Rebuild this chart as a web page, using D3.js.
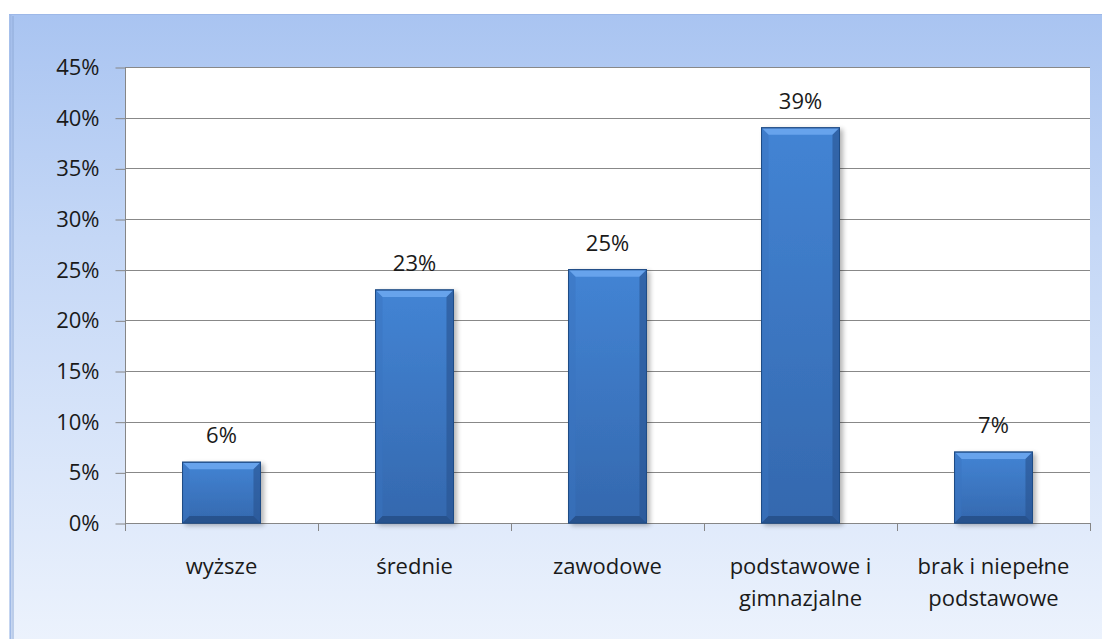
<!DOCTYPE html>
<html>
<head>
<meta charset="utf-8">
<script src="https://cdn.jsdelivr.net/npm/d3@7"></script>
<style>
  html, body { margin: 0; padding: 0; background: #fff; }
  svg { display: block; font-family: "Open Sans", "Noto Sans", sans-serif; }
</style>
</head>
<body>
<svg id="canvas" width="1102" height="639"></svg>
<script>
'use strict';

// categories (lines of each label) and their values, in percent
var categories = [
  ['wyższe'],
  ['średnie'],
  ['zawodowe'],
  ['podstawowe i', 'gimnazjalne'],
  ['brak i niepełne', 'podstawowe']
];
var values = [6, 23, 25, 39, 7];
var yTicks = [0, 5, 10, 15, 20, 25, 30, 35, 40, 45];

var width = 1102, height = 639;
var plot = {left: 125, right: 1090, top: 67, bottom: 523};
var fontSize = '22px';
var textColor = '#1a1a1a';

var svg = d3.select('svg#canvas');
var defs = svg.append('defs');

// background of the chart frame
var bg = defs.append('linearGradient').attr('id', 'bg')
  .attr('x1', 0).attr('y1', 0).attr('x2', 0).attr('y2', 1);
bg.append('stop').attr('offset', '0%').attr('stop-color', '#a9c4f1');
bg.append('stop').attr('offset', '35%').attr('stop-color', '#c4d7f6');
bg.append('stop').attr('offset', '100%').attr('stop-color', '#edf3fd');

// bar body
var barGrad = defs.append('linearGradient').attr('id', 'bar')
  .attr('x1', 0).attr('y1', 0).attr('x2', 0).attr('y2', 1);
barGrad.append('stop').attr('offset', '0%').attr('stop-color', '#4384d4');
barGrad.append('stop').attr('offset', '100%').attr('stop-color', '#3468ae');

var shadow = defs.append('filter').attr('id', 'shadow')
  .attr('x', '-20%').attr('y', '-20%').attr('width', '140%').attr('height', '140%');
shadow.append('feGaussianBlur').attr('in', 'SourceAlpha').attr('stdDeviation', 2.5);
shadow.append('feOffset').attr('dx', 3).attr('dy', 2).attr('result', 'b');
shadow.append('feComponentTransfer').append('feFuncA').attr('type', 'linear').attr('slope', 0.3);
var merge = shadow.append('feMerge');
merge.append('feMergeNode');
merge.append('feMergeNode').attr('in', 'SourceGraphic');

svg.append('rect')
  .attr('x', 9).attr('y', 14).attr('width', width).attr('height', height)
  .attr('fill', 'url(#bg)');
svg.append('line')
  .attr('x1', 10.5).attr('x2', 10.5).attr('y1', 14).attr('y2', height)
  .attr('stroke', '#9fb9e6').attr('stroke-width', 2);
svg.append('line')
  .attr('x1', 13).attr('x2', 13).attr('y1', 16).attr('y2', height)
  .attr('stroke', '#8ea9d6').attr('stroke-width', 1);
svg.append('line')
  .attr('x1', 9).attr('x2', width).attr('y1', 14.5).attr('y2', 14.5)
  .attr('stroke', '#9db8e8').attr('stroke-width', 1);

/* scales */
var x = d3.scaleBand()
  .domain(d3.range(values.length))
  .range([plot.left, plot.right])
  .padding(0);
var y = d3.scaleLinear()
  .domain([0, 45])
  .range([plot.bottom, plot.top]);

var g = svg.append('g').attr('id', 'graph');

g.append('rect')
  .attr('x', plot.left).attr('y', plot.top)
  .attr('width', plot.right - plot.left).attr('height', plot.bottom - plot.top)
  .attr('fill', '#fff');

/* gridlines */
g.append('g').selectAll('line')
  .data(yTicks.filter(function(d){ return d > 0; }))
  .join('line')
  .attr('x1', plot.left).attr('x2', plot.right)
  .attr('y1', function(d){ return Math.round(y(d)) + 0.5; })
  .attr('y2', function(d){ return Math.round(y(d)) + 0.5; })
  .attr('stroke', '#888').attr('stroke-width', 1);

/* y axis */
var yAxis = d3.axisLeft(y)
  .tickValues(yTicks)
  .tickSize(10)
  .tickPadding(16)
  .tickFormat(function(d){ return d + '%'; });
var ya = g.append('g')
  .attr('transform', 'translate(' + (plot.left + 0.5) + ',0.5)')
  .call(yAxis);
ya.select('.domain').attr('stroke', '#868686').attr('d', 'M0,' + (plot.top - 0.5) + 'V' + (plot.bottom - 0.5));
ya.selectAll('.tick line').attr('stroke', '#868686');
ya.selectAll('.tick text')
  .attr('fill', textColor).style('font-size', fontSize)
  .style('font-family', '"Open Sans", "Noto Sans", sans-serif');

/* x axis: ticks on category boundaries */
var bounds = d3.range(values.length + 1).map(function(i){
  return i < values.length ? x(i) : x(values.length - 1) + x.bandwidth();
});
var xa = g.append('g');
xa.append('line')
  .attr('x1', plot.left).attr('x2', plot.right)
  .attr('y1', plot.bottom + 0.5).attr('y2', plot.bottom + 0.5)
  .attr('stroke', '#868686');
xa.selectAll('line.tk')
  .data(bounds)
  .join('line').attr('class', 'tk')
  .attr('x1', function(d){ return Math.round(d) + 0.5; })
  .attr('x2', function(d){ return Math.round(d) + 0.5; })
  .attr('y1', plot.bottom).attr('y2', plot.bottom + 8)
  .attr('stroke', '#868686');

var labels = xa.selectAll('text.cat')
  .data(categories)
  .join('text').attr('class', 'cat')
  .attr('x', function(d, i){ return x(i) + x.bandwidth() / 2; })
  .attr('y', plot.bottom + 51)
  .attr('text-anchor', 'middle')
  .attr('fill', textColor)
  .style('font-size', fontSize);
labels.selectAll('tspan')
  .data(function(d){ return d; })
  .join('tspan')
  .attr('x', function(){ return d3.select(this.parentNode).attr('x'); })
  .attr('dy', function(d, i){ return i === 0 ? 0 : 32; })
  .text(function(d){ return d; });

/* bars */
var bw = x.bandwidth() * 0.404;
var bars = g.append('g').selectAll('g.bar')
  .data(values)
  .join('g').attr('class', 'bar')
  .attr('transform', function(d, i){
    return 'translate(' + (x(i) + (x.bandwidth() - bw) / 2) + ',' + y(d) + ')';
  });

bars.append('rect')
  .attr('width', bw)
  .attr('height', function(d){ return y(0) - y(d); })
  .attr('fill', 'url(#bar)')
  .attr('stroke', '#1f4c86').attr('stroke-width', 1)
  .attr('filter', 'url(#shadow)');

var bev = 7;
// top bevel (light)
bars.append('path')
  .attr('d', 'M0.5,0.5 H' + (bw - 0.5) + ' L' + (bw - bev) + ',' + bev + ' H' + bev + ' Z')
  .attr('fill', '#6ba6ee').attr('opacity', 0.9);
// left bevel
bars.append('path')
  .attr('d', function(d){
    var h = y(0) - y(d);
    return 'M0.5,0.5 L' + bev + ',' + bev + ' V' + (h - bev) + ' L0.5,' + (h - 0.5) + ' Z';
  })
  .attr('fill', '#3a74c0').attr('opacity', 0.5);
// right bevel (dark)
bars.append('path')
  .attr('d', function(d){
    var h = y(0) - y(d);
    return 'M' + (bw - 0.5) + ',0.5 L' + (bw - bev) + ',' + bev + ' V' + (h - bev) + ' L' + (bw - 0.5) + ',' + (h - 0.5) + ' Z';
  })
  .attr('fill', '#2a5592').attr('opacity', 0.65);
// bottom bevel (dark)
bars.append('path')
  .attr('d', function(d){
    var h = y(0) - y(d);
    return 'M0.5,' + (h - 0.5) + ' L' + bev + ',' + (h - bev) + ' H' + (bw - bev) + ' L' + (bw - 0.5) + ',' + (h - 0.5) + ' Z';
  })
  .attr('fill', '#244c85').attr('opacity', 0.8);
bars.append('rect')
  .attr('width', bw)
  .attr('height', function(d){ return y(0) - y(d); })
  .attr('fill', 'none')
  .attr('stroke', '#1f4c86').attr('stroke-width', 1);

/* value labels */
g.append('g').selectAll('text')
  .data(values)
  .join('text')
  .attr('x', function(d, i){ return x(i) + x.bandwidth() / 2; })
  .attr('y', function(d){ return y(d) - 19; })
  .attr('text-anchor', 'middle')
  .attr('fill', textColor)
  .style('font-size', fontSize)
  .text(function(d){ return d + '%'; });
</script>
</body>
</html>
